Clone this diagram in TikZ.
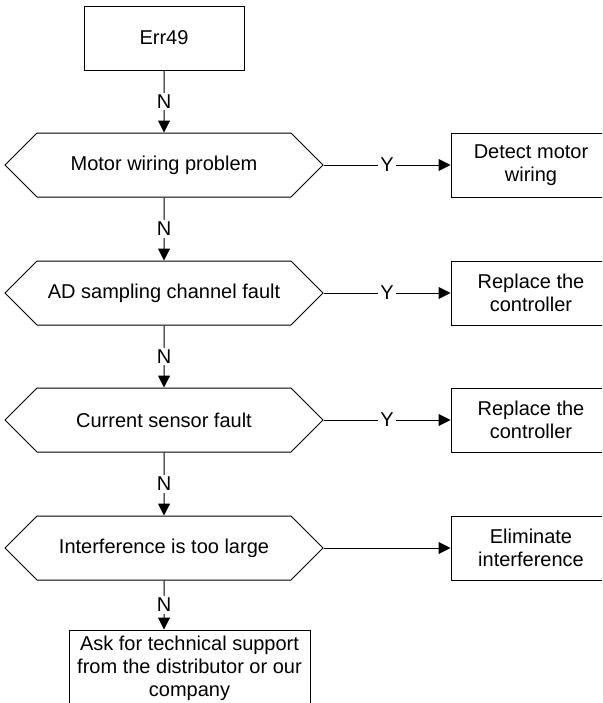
\documentclass[tikz,border=0pt]{standalone}
\usepackage{fontspec}
\setmainfont{Liberation Sans}
\usetikzlibrary{arrows.meta,shapes.symbols}
\begin{document}
\begin{tikzpicture}[
every node/.style={font=\fontsize{10pt}{11.5pt}\selectfont},
x=0.5pt,
y=-0.5pt,
box/.style={draw,line width=0.5pt,minimum width=80pt,minimum height=32pt,align=center,inner sep=2pt},
hexa/.style={draw,line width=0.5pt,signal,signal to=west and east,minimum width=159pt,minimum height=32pt,inner sep=1pt},
arr/.style={line width=0.5pt,-{Triangle[length=6pt,width=6pt]}},
lbl/.style={fill=white,inner sep=1pt}
]
\useasboundingbox (0,0) rectangle (602,703);
\clip (0,0) rectangle (602,703);

\node[box] (err) at (164,38) {Err49};

\node[hexa] (h1) at (164,165) {Motor wiring problem};
\node[hexa] (h2) at (164,293) {AD sampling channel fault};
\node[hexa] (h3) at (164,420) {Current sensor fault};
\node[hexa] (h4) at (164,548) {Interference is too large};

\node[box] (r1) at (531,165) {Detect motor\\wiring};
\node[box] (r2) at (531,293) {Replace the\\controller};
\node[box] (r3) at (531,420) {Replace the\\controller};
\node[box] (r4) at (531,548) {Eliminate\\interference};

\node[box,minimum width=120.5pt,minimum height=38pt] (ask) at (189.5,668) {Ask for technical support\\from the distributor or our\\company};

\draw[arr] (err) -- node[lbl] {N} (h1);
\draw[arr] (h1) -- node[lbl] {N} (h2);
\draw[arr] (h2) -- node[lbl] {N} (h3);
\draw[arr] (h3) -- node[lbl] {N} (h4);
\draw[arr] (h4) -- node[lbl] {N} (h4 |- ask.north);

\draw[arr] (h1.east) -- node[lbl] {Y} (r1);
\draw[arr] (h2.east) -- node[lbl] {Y} (r2);
\draw[arr] (h3.east) -- node[lbl] {Y} (r3);
\draw[arr] (h4.east) -- (r4);
\end{tikzpicture}
\end{document}
